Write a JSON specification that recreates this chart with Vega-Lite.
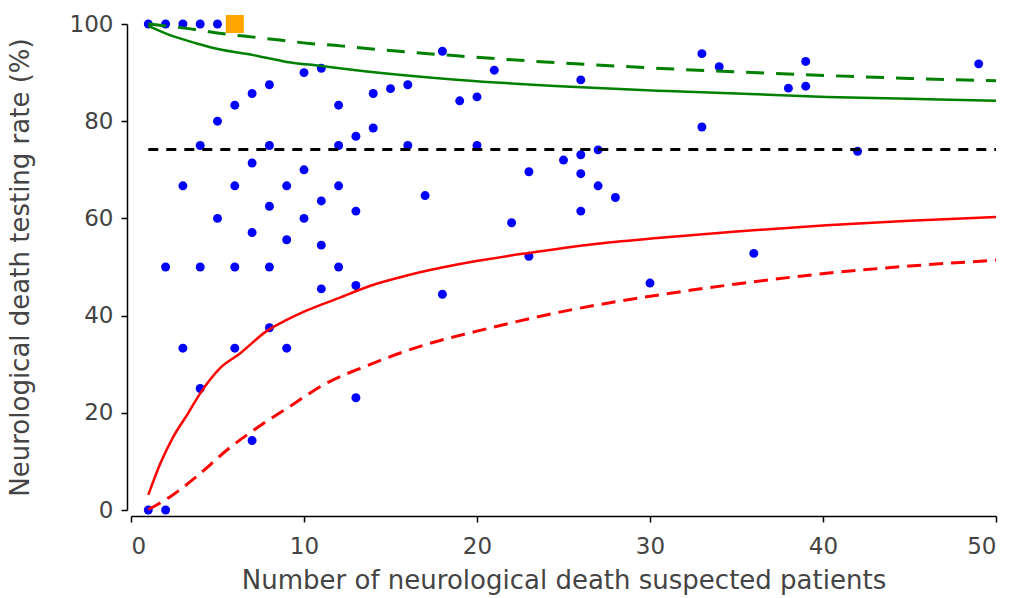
{
  "$schema": "https://vega.github.io/schema/vega-lite/v6.json",
  "width": 865,
  "height": 486,
  "autosize": "none",
  "padding": {"left": 131, "top": 24, "right": 17, "bottom": 88},
  "background": "white",
  "config": {
    "view": {"stroke": null},
    "axis": {
      "grid": false,
      "domainColor": "black",
      "domainWidth": 1.5,
      "tickColor": "black",
      "tickWidth": 1.5,
      "tickSize": 6,
      "labelFont": "DejaVu Sans",
      "labelFontSize": 23,
      "labelColor": "#444",
      "titleFont": "DejaVu Sans",
      "titleFontSize": 26,
      "titleFontWeight": "normal",
      "titleColor": "#444"
    }
  },
  "datasets": {
    "pts": [
      {"n": 1, "rate": 100}, {"n": 2, "rate": 100}, {"n": 3, "rate": 100}, {"n": 4, "rate": 100}, {"n": 5, "rate": 100},
      {"n": 10, "rate": 90}, {"n": 11, "rate": 90.9}, {"n": 8, "rate": 87.5}, {"n": 7, "rate": 85.7}, {"n": 6, "rate": 83.3},
      {"n": 5, "rate": 80}, {"n": 12, "rate": 83.3}, {"n": 13, "rate": 76.9}, {"n": 14, "rate": 78.6}, {"n": 14, "rate": 85.7},
      {"n": 4, "rate": 75}, {"n": 8, "rate": 75}, {"n": 12, "rate": 75}, {"n": 7, "rate": 71.4}, {"n": 10, "rate": 70},
      {"n": 3, "rate": 66.7}, {"n": 6, "rate": 66.7}, {"n": 9, "rate": 66.7}, {"n": 12, "rate": 66.7}, {"n": 11, "rate": 63.6},
      {"n": 8, "rate": 62.5}, {"n": 13, "rate": 61.5}, {"n": 5, "rate": 60}, {"n": 10, "rate": 60}, {"n": 7, "rate": 57.1},
      {"n": 9, "rate": 55.6}, {"n": 11, "rate": 54.5}, {"n": 2, "rate": 50}, {"n": 4, "rate": 50}, {"n": 6, "rate": 50},
      {"n": 8, "rate": 50}, {"n": 12, "rate": 50}, {"n": 11, "rate": 45.5}, {"n": 13, "rate": 46.2}, {"n": 8, "rate": 37.5},
      {"n": 3, "rate": 33.3}, {"n": 6, "rate": 33.3}, {"n": 9, "rate": 33.3}, {"n": 4, "rate": 25}, {"n": 7, "rate": 14.3},
      {"n": 13, "rate": 23.1}, {"n": 1, "rate": 0}, {"n": 2, "rate": 0},
      {"n": 18, "rate": 94.4}, {"n": 21, "rate": 90.5}, {"n": 26, "rate": 88.5}, {"n": 15, "rate": 86.7}, {"n": 16, "rate": 87.5},
      {"n": 19, "rate": 84.2}, {"n": 20, "rate": 85}, {"n": 16, "rate": 75}, {"n": 20, "rate": 75}, {"n": 17, "rate": 64.7},
      {"n": 23, "rate": 69.6}, {"n": 25, "rate": 72}, {"n": 26, "rate": 73.1}, {"n": 27, "rate": 74.1}, {"n": 26, "rate": 69.2},
      {"n": 27, "rate": 66.7}, {"n": 28, "rate": 64.3}, {"n": 26, "rate": 61.5}, {"n": 22, "rate": 59.1}, {"n": 23, "rate": 52.2},
      {"n": 18, "rate": 44.4}, {"n": 30, "rate": 46.7},
      {"n": 33, "rate": 93.9}, {"n": 34, "rate": 91.2}, {"n": 39, "rate": 92.3}, {"n": 49, "rate": 91.8}, {"n": 38, "rate": 86.8},
      {"n": 39, "rate": 87.2}, {"n": 33, "rate": 78.8}, {"n": 42, "rate": 73.8}, {"n": 36, "rate": 52.8}
    ],
    "sq": [{"n": 6, "rate": 100}],
    "mean": [{"n": 1, "rate": 74.2}, {"n": 50, "rate": 74.2}],
    "g95": [
      {"n": 1, "rate": 99.6}, {"n": 2.25, "rate": 97.7}, {"n": 3.8, "rate": 96}, {"n": 5.1, "rate": 94.8}, {"n": 7.07, "rate": 93.6},
      {"n": 9, "rate": 92.2}, {"n": 10.9, "rate": 91.4}, {"n": 13.5, "rate": 90.3}, {"n": 19, "rate": 88.5}, {"n": 24.8, "rate": 87.2},
      {"n": 31, "rate": 86.2}, {"n": 40.2, "rate": 85}, {"n": 45, "rate": 84.6}, {"n": 50, "rate": 84.2}
    ],
    "g998": [
      {"n": 1, "rate": 100}, {"n": 3.2, "rate": 99.1}, {"n": 5.1, "rate": 98.1}, {"n": 7.07, "rate": 97.3}, {"n": 8.6, "rate": 96.7},
      {"n": 10.3, "rate": 96}, {"n": 12.1, "rate": 95.5}, {"n": 13.5, "rate": 95}, {"n": 19, "rate": 93.4}, {"n": 24.8, "rate": 92},
      {"n": 31, "rate": 90.8}, {"n": 40.2, "rate": 89.4}, {"n": 45, "rate": 88.8}, {"n": 50, "rate": 88.3}
    ],
    "r95": [
      {"n": 1, "rate": 3.1}, {"n": 1.7, "rate": 9.6}, {"n": 2.45, "rate": 15.1}, {"n": 3.3, "rate": 19.9}, {"n": 4, "rate": 24},
      {"n": 5.15, "rate": 29.2}, {"n": 6.3, "rate": 32.2}, {"n": 7.8, "rate": 36.7}, {"n": 9, "rate": 39.1}, {"n": 10, "rate": 40.8},
      {"n": 12, "rate": 43.6}, {"n": 13.8, "rate": 46.1}, {"n": 16, "rate": 48.3}, {"n": 19, "rate": 50.6}, {"n": 23, "rate": 52.9},
      {"n": 26.7, "rate": 54.7}, {"n": 30.6, "rate": 56}, {"n": 35, "rate": 57.3}, {"n": 40.2, "rate": 58.6}, {"n": 45, "rate": 59.5},
      {"n": 50, "rate": 60.3}
    ],
    "r998": [
      {"n": 1, "rate": 0.1}, {"n": 2.25, "rate": 2.7}, {"n": 3.8, "rate": 6.9}, {"n": 5.53, "rate": 12.3}, {"n": 7.65, "rate": 17.8},
      {"n": 9, "rate": 20.9}, {"n": 11.3, "rate": 26.1}, {"n": 13.5, "rate": 29.5}, {"n": 17, "rate": 34}, {"n": 20, "rate": 36.8},
      {"n": 25.6, "rate": 41.3}, {"n": 30.6, "rate": 44.3}, {"n": 35, "rate": 46.5}, {"n": 40.2, "rate": 48.7}, {"n": 45, "rate": 50.2},
      {"n": 50, "rate": 51.4}
    ]
  },
  "encoding": {
    "x": {
      "field": "n", "type": "quantitative",
      "scale": {"domain": [0, 50], "nice": false, "zero": false},
      "axis": {"values": [0, 10, 20, 30, 40, 50], "offset": 6, "labelPadding": 13, "title": "Number of neurological death suspected patients", "titlePadding": 9}
    },
    "y": {
      "field": "rate", "type": "quantitative",
      "scale": {"domain": [0, 100], "nice": false},
      "axis": {"values": [0, 20, 40, 60, 80, 100], "offset": 4, "labelPadding": 8, "title": "Neurological death testing rate (%)", "titlePadding": 36}
    }
  },
  "layer": [
    {"data": {"name": "pts"}, "mark": {"type": "circle", "size": 80, "color": "#0000FF", "opacity": 1}},
    {"data": {"name": "mean"}, "mark": {"type": "line", "color": "black", "strokeWidth": 3, "strokeDash": [10, 8]}},
    {"data": {"name": "g95"}, "mark": {"type": "line", "color": "#008000", "strokeWidth": 2.5, "interpolate": "monotone"}},
    {"data": {"name": "g998"}, "mark": {"type": "line", "color": "#008000", "strokeWidth": 3, "strokeDash": [18, 12], "interpolate": "monotone"}},
    {"data": {"name": "r95"}, "mark": {"type": "line", "color": "#FF0000", "strokeWidth": 2.5, "interpolate": "monotone"}},
    {"data": {"name": "r998"}, "mark": {"type": "line", "color": "#FF0000", "strokeWidth": 3, "strokeDash": [14, 8], "interpolate": "monotone"}},
    {"data": {"name": "sq"}, "mark": {"type": "square", "size": 324, "color": "#FFA500", "opacity": 1, "filled": true}}
  ]
}
